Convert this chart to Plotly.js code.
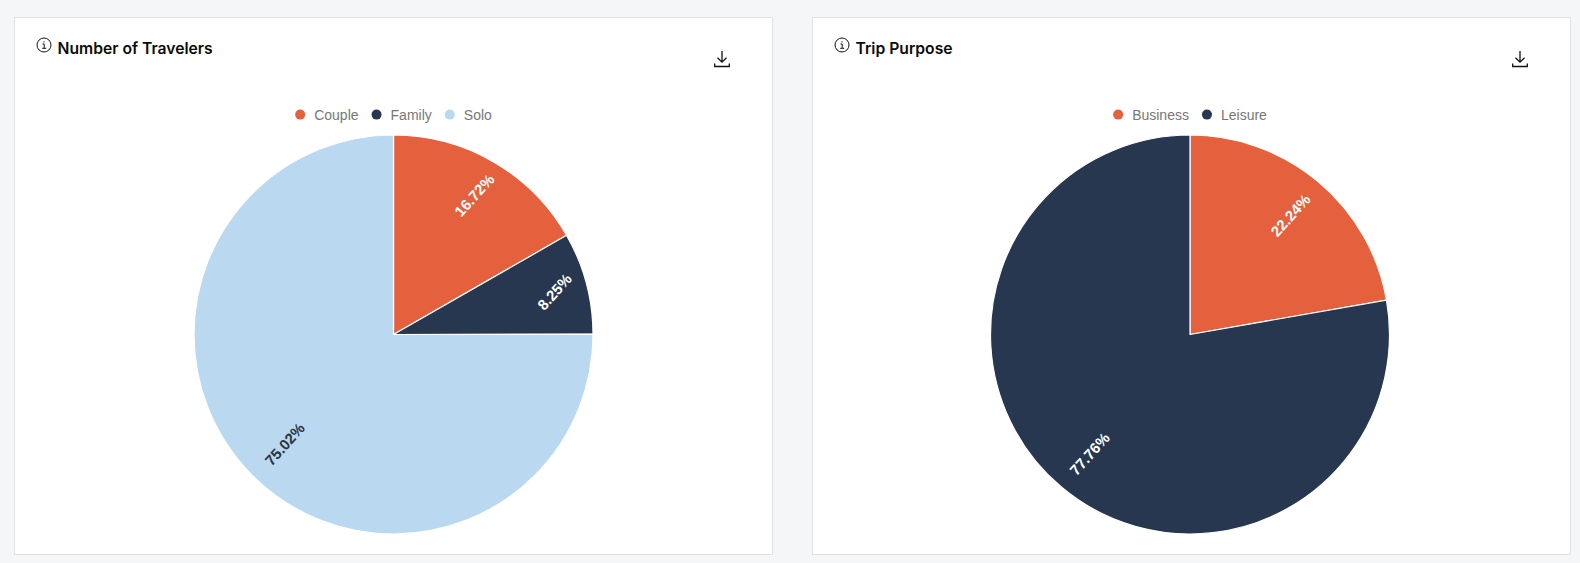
<!DOCTYPE html>
<html><head><meta charset="utf-8">
<script src="https://cdn.plot.ly/plotly-3.0.1.min.js"></script>
<style>
html,body{margin:0;padding:0;background:#f5f6f8;width:1580px;height:563px;overflow:hidden}
.card{position:absolute;top:17px;height:536px;width:757px;background:#fff;border:1px solid #e0e2e6;box-sizing:content-box}
.plot{position:absolute;left:0;top:0;width:100%;height:100%}
svg.ic{position:absolute;z-index:5}
</style></head><body>
<div class="card" style="left:14px"><div id="a" class="plot"></div>
<svg class="ic" style="left:20.5px;top:19px" width="16" height="16" viewBox="0 0 16 16" fill="none" stroke="#111"><circle cx="8" cy="8" r="7"/><path d="M6.5 7h1.7v4.2M6.2 11.3h4M8 4.3v1.2"/></svg>
<svg class="ic" style="left:698px;top:32px" width="18" height="18" viewBox="0 0 18 18" fill="none" stroke="#111" stroke-width="1.3"><path d="M9 1v11M4.5 7.7L9 12.2l4.5-4.5M1.7 13.5v3h14.6v-3"/></svg>
</div>
<div class="card" style="left:812px"><div id="b" class="plot"></div>
<svg class="ic" style="left:20.5px;top:19px" width="16" height="16" viewBox="0 0 16 16" fill="none" stroke="#111"><circle cx="8" cy="8" r="7"/><path d="M6.5 7h1.7v4.2M6.2 11.3h4M8 4.3v1.2"/></svg>
<svg class="ic" style="left:698px;top:32px" width="18" height="18" viewBox="0 0 18 18" fill="none" stroke="#111" stroke-width="1.3"><path d="M9 1v11M4.5 7.7L9 12.2l4.5-4.5M1.7 13.5v3h14.6v-3"/></svg>
</div>
<script>
const travelerLabels = ['Couple','Family','Solo'];
const travelerValues = [16.72,8.25,75.02];
const travelerColors = ['#e5603d','#27374f','#bad8f0'];
const travelerText = ['#ffffff','#ffffff','#2b3440'];
const travelerLabelRadius = [0.805,0.836,0.776];
const purposeLabels = ['Business','Leisure'];
const purposeValues = [22.24,77.76];
const purposeColors = ['#e5603d','#27374f'];
const purposeText = ['#ffffff','#ffffff'];
const purposeLabelRadius = [0.78,0.78];

function draw(id,title,labels,values,colors,textColors,radii,marginR){
  const el=document.getElementById(id);
  const W=el.clientWidth,H=el.clientHeight;
  const mt=117,mb=20,pw=W-marginR,ph=H-mt-mb,R=ph/2;
  const traces=[{type:'pie',labels:labels,values:values,sort:false,direction:'clockwise',rotation:0,
    marker:{colors:colors,line:{color:'#fff',width:1.2}},
    textinfo:'none',showlegend:false,hoverinfo:'label+percent'}];
  labels.forEach((n,i)=>traces.push({type:'scatter',mode:'markers',x:[null],y:[null],name:n,
    marker:{color:colors[i],size:10,symbol:'circle'},showlegend:true,hoverinfo:'skip'}));
  const total=values.reduce((s,v)=>s+v,0);
  let acc=0;
  const annotations=values.map((v,i)=>{
    const mid=(acc+v/2)/total*2*Math.PI; acc+=v;
    return {xref:'paper',yref:'paper',x:0.5+radii[i]*R*Math.sin(mid)/pw,y:0.5+radii[i]*R*Math.cos(mid)/ph,
      text:v.toFixed(2)+'%',showarrow:false,textangle:-48,xanchor:'center',yanchor:'middle',
      font:{family:'Liberation Sans, Arial, sans-serif',size:15,color:textColors[i],weight:700}};
  });
  const layout={width:W,height:H,paper_bgcolor:'#fff',plot_bgcolor:'#fff',
    margin:{l:0,r:marginR,t:mt,b:mb,pad:0},
    xaxis:{visible:false},yaxis:{visible:false},annotations:annotations,
    title:{text:title,x:42.5/W,xanchor:'left',xref:'container',y:1-31/H,yanchor:'middle',yref:'container',
      font:{family:'Inter, Roboto, sans-serif',size:15.7,color:'#0b0b0b',weight:600}},
    legend:{orientation:'h',x:0.5,xanchor:'center',y:1+(mt-97)/ph,yanchor:'middle',
      font:{family:'Liberation Sans, Arial, sans-serif',size:14,color:'#777'},itemclick:false,itemdoubleclick:false,bgcolor:'rgba(0,0,0,0)'},
    font:{family:'Liberation Sans, Arial, sans-serif'}};
  return Plotly.newPlot(el,traces,layout,{displayModeBar:false,staticPlot:true}).then(()=>{
    // tighten legend spacing to the reference's compact layout
    const lg=el.querySelector('.legend');
    const lx=+/translate\(([-\d.]+)/.exec(lg.getAttribute('transform'))[1];
    const items=[...lg.querySelectorAll('.traces')];
    const widths=items.map(it=>it.querySelector('text').getComputedTextLength());
    const full=5+widths.reduce((s,w)=>s+14+w,0)+18*(items.length-1);
    let mx=pw/2-full/2+5;
    items.forEach((it,i)=>{
      const y=(/translate\([-\d.]+,\s*([-\d.]+)/.exec(it.getAttribute('transform'))||[0,0])[1];
      it.setAttribute('transform','translate('+(mx-20-lx)+','+y+')');
      it.querySelector('text').setAttribute('x',34);
      mx+=14+widths[i]+18;
    });
  });
}
draw('a','Number of Travelers',travelerLabels,travelerValues,travelerColors,travelerText,travelerLabelRadius,0);
draw('b','Trip Purpose',purposeLabels,purposeValues,purposeColors,purposeText,purposeLabelRadius,3);
</script>
</body></html>
